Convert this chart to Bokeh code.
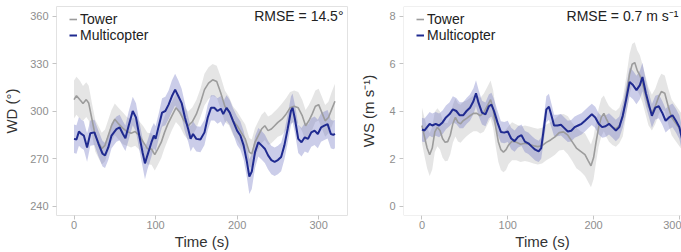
import numpy as np
from bokeh.plotting import figure
from bokeh.layouts import row
from bokeh.models import Label, Legend, LegendItem, Span, Range1d, FixedTicker
from bokeh.embed import file_html
from bokeh.resources import INLINE

# ---------------- wind direction (deg) ----------------
wd_tower_t = [0, 3, 7, 11, 15, 18, 22, 26, 30, 34, 38, 42, 46, 50, 55, 60, 65, 70, 75, 80,
              85, 90, 95, 99, 103, 107, 111, 115, 120, 125, 130, 135, 140, 145, 150, 155, 160,
              165, 170, 175, 180, 185, 190, 195, 200, 205, 210, 215, 218, 222, 226, 230, 234,
              238, 242, 246, 250, 255, 260, 265, 270, 275, 280, 284, 288, 292, 296, 300, 304,
              308, 312, 316, 320]
wd_tower = [307.2, 309.7, 307.2, 304.8, 307.2, 305.0, 294.8, 284.5, 280.3, 276.2, 278.3, 284.5,
            290.7, 294.8, 291.7, 289.0, 287.0, 286.0, 287.0, 284.5, 280.3, 276.2, 276.0, 272.5,
            276.2, 280.3, 286.5, 291.7, 296.9, 302.0, 299.0, 293.8, 290.7, 293.2, 298.0, 305.0,
            313.5, 317.6, 319.7, 318.6, 311.4, 303.0, 300.0, 293.8, 290.7, 286.5, 282.4, 274.0,
            273.0, 280.3, 284.5, 288.6, 290.7, 287.6, 288.6, 290.7, 292.8, 294.8, 298.0, 302.0,
            303.0, 302.0, 296.9, 290.7, 293.8, 298.0, 303.0, 304.0, 299.0, 293.8, 295.9, 301.0,
            306.2]
wd_tower_sd = [12, 12, 12, 11, 11, 11, 10, 10, 10, 10, 10, 10, 10, 10, 10, 10, 9, 9, 9, 9,
               10, 10, 10, 10, 10, 10, 10, 10, 9, 9, 9, 9, 9, 9, 9, 9, 10, 10, 10, 10, 10, 10,
               9, 9, 9, 9, 9, 9, 9, 9, 9, 9, 9, 9, 9, 9, 9, 10, 10, 10, 10, 10, 10, 10, 10, 10,
               10, 10, 10, 10, 10, 11, 11]

wd_copter_t = [0, 3, 6, 9, 12, 16, 20, 25, 30, 35, 38, 42, 46, 52, 56, 60, 63, 67, 72, 76, 80,
               84, 87, 90, 95, 98, 100, 104, 108, 112, 116, 120, 124, 128, 132, 136, 140, 143,
               146, 150, 155, 160, 164, 168, 172, 176, 180, 183, 187, 191, 195, 200, 204, 208,
               212, 215, 218, 222, 226, 230, 234, 238, 242, 246, 250, 254, 258, 262, 266, 268,
               271, 275, 279, 283, 287, 291, 295, 299, 303, 307, 311, 315, 318, 320]
wd_copter = [282.4, 282.0, 287.0, 285.5, 284.5, 277.0, 286.0, 286.5, 279.3, 273.0, 272.0, 277.0,
             284.5, 288.6, 289.6, 285.5, 282.8, 290.7, 300.0, 295.9, 284.5, 274.0, 266.9, 272.0,
             280.3, 284.5, 282.4, 290.7, 299.0, 300.0, 304.0, 309.3, 313.5, 309.3, 305.0, 295.9,
             288.6, 282.4, 285.5, 282.4, 282.0, 286.5, 295.9, 302.0, 302.0, 300.0, 301.4, 298.0,
             302.0, 299.0, 293.8, 287.6, 284.5, 278.3, 268.0, 258.6, 261.7, 274.0, 280.3, 278.3,
             276.2, 272.0, 269.0, 267.9, 269.0, 271.0, 278.3, 288.6, 300.0, 302.0, 294.8, 282.4,
             280.3, 283.4, 282.4, 286.5, 287.6, 285.5, 289.6, 290.7, 291.7, 285.5, 284.9, 285.5]
wd_copter_sd = [9, 9, 9, 9, 9, 9, 8, 8, 8, 8, 8, 8, 8, 8, 8, 8, 8, 9, 9, 9, 9, 9, 10, 9, 9, 8,
                8, 8, 9, 9, 9, 10, 10, 10, 9, 9, 8, 8, 8, 8, 8, 8, 8, 8, 8, 8, 8, 8, 8, 8, 8, 9,
                9, 9, 10, 11, 11, 10, 9, 9, 9, 9, 9, 9, 9, 9, 9, 9, 9, 9, 9, 9, 9, 9, 9, 9, 9,
                9, 9, 9, 9, 9, 9, 9]

# ---------------- wind speed (m/s) ----------------
ws_tower_t = [0, 3, 6, 9, 12, 15, 18, 21, 24, 27, 30, 33, 36, 39, 42, 45, 48, 52, 56, 60, 64,
              68, 72, 76, 80, 83, 86, 89, 92, 95, 98, 101, 105, 110, 115, 120, 125, 130, 135,
              140, 145, 150, 155, 160, 165, 170, 175, 180, 185, 190, 194, 197, 200, 203, 206,
              209, 212, 215, 218, 222, 226, 230, 234, 238, 242, 245, 248, 251, 254, 257, 260,
              264, 268, 272, 276, 279, 283, 287, 291, 295, 299, 303, 308, 313, 320]
ws_tower = [3.39, 2.91, 2.44, 2.16, 2.44, 3.12, 3.32, 3.18, 2.84, 2.68, 2.71, 2.98, 3.46, 3.73,
            3.52, 3.46, 3.59, 3.69, 3.80, 3.90, 3.90, 3.80, 3.93, 4.20, 4.48, 4.07, 3.32, 2.71,
            2.37, 2.27, 2.37, 2.57, 2.73, 2.68, 2.60, 2.64, 2.60, 2.54, 2.50, 2.54, 2.68, 2.78,
            2.91, 3.09, 3.12, 2.98, 2.71, 2.44, 2.30, 2.16, 1.89, 1.69, 2.03, 2.71, 3.32, 3.73,
            3.90, 3.66, 3.46, 3.32, 3.25, 3.39, 3.73, 4.61, 5.56, 5.97, 6.04, 5.70, 5.50, 5.16,
            4.75, 4.20, 3.93, 4.20, 4.61, 4.82, 4.75, 4.20, 3.73, 3.52, 3.32, 3.12, 3.00, 2.95,
            3.00]
ws_tower_sd = [0.75, 0.8, 0.85, 0.9, 0.9, 0.85, 0.8, 0.8, 0.8, 0.8, 0.8, 0.8, 0.8, 0.8, 0.8,
               0.8, 0.8, 0.75, 0.75, 0.75, 0.75, 0.75, 0.8, 0.8, 0.8, 0.8, 0.8, 0.85, 0.85,
               0.85, 0.85, 0.8, 0.8, 0.75, 0.75, 0.75, 0.75, 0.75, 0.75, 0.75, 0.75, 0.75, 0.75,
               0.75, 0.75, 0.8, 0.8, 0.85, 0.85, 0.9, 0.9, 0.9, 0.9, 0.85, 0.8, 0.8, 0.75, 0.75,
               0.75, 0.75, 0.75, 0.75, 0.8, 0.8, 0.85, 0.85, 0.85, 0.85, 0.85, 0.8, 0.8, 0.8,
               0.75, 0.75, 0.75, 0.75, 0.75, 0.75, 0.75, 0.75, 0.75, 0.75, 0.75, 0.75, 0.75]

ws_copter_t = [0, 3, 6, 9, 12, 16, 20, 24, 28, 32, 36, 40, 44, 48, 52, 56, 60, 63, 66, 70, 74,
               78, 81, 84, 88, 92, 96, 100, 104, 108, 112, 116, 120, 124, 128, 132, 136, 139,
               142, 145, 148, 151, 154, 158, 162, 166, 170, 174, 178, 182, 186, 190, 194, 198,
               202, 206, 210, 214, 218, 222, 226, 230, 234, 238, 242, 246, 250, 254, 257, 261,
               265, 268, 272, 276, 280, 284, 288, 292, 296, 300, 303, 307, 312, 316, 320]
ws_copter = [3.22, 3.18, 3.32, 3.46, 3.39, 3.46, 3.39, 3.52, 3.73, 3.86, 4.07, 4.00, 3.82, 3.82,
             4.00, 4.14, 4.41, 4.75, 4.34, 3.93, 3.86, 4.20, 4.27, 4.00, 3.52, 3.12, 3.09, 3.14,
             2.84, 2.73, 2.91, 2.98, 2.71, 2.64, 2.50, 2.37, 2.30, 2.44, 3.25, 4.07, 4.18, 3.80,
             3.39, 3.39, 3.42, 3.28, 3.14, 3.17, 3.32, 3.39, 3.46, 3.59, 3.73, 3.86, 3.73, 3.46,
             3.32, 3.36, 3.46, 3.32, 3.18, 3.32, 3.80, 4.48, 5.22, 5.09, 4.88, 5.09, 5.43, 4.75,
             4.20, 3.80, 4.14, 4.20, 3.93, 3.59, 3.73, 3.82, 3.59, 3.32, 2.84, 2.90, 3.00, 2.95,
             3.05]
ws_copter_sd = [0.5, 0.5, 0.5, 0.5, 0.5, 0.5, 0.5, 0.5, 0.5, 0.5, 0.55, 0.55, 0.55, 0.55, 0.55,
                0.55, 0.55, 0.55, 0.55, 0.5, 0.5, 0.5, 0.5, 0.5, 0.5, 0.45, 0.45, 0.45, 0.45,
                0.45, 0.45, 0.45, 0.45, 0.45, 0.45, 0.45, 0.45, 0.45, 0.5, 0.55, 0.55, 0.5, 0.45,
                0.45, 0.45, 0.45, 0.45, 0.45, 0.45, 0.45, 0.45, 0.45, 0.45, 0.45, 0.45, 0.45,
                0.45, 0.45, 0.45, 0.45, 0.45, 0.45, 0.5, 0.55, 0.6, 0.6, 0.6, 0.6, 0.6, 0.55,
                0.5, 0.5, 0.5, 0.5, 0.5, 0.5, 0.5, 0.5, 0.5, 0.5, 0.5, 0.5, 0.5, 0.5, 0.5]

series_names = ["Tower", "Multicopter"]
wd_ticks = [240, 270, 300, 330, 360]
ws_ticks = [0, 2, 4, 6, 8]
time_ticks = [0, 100, 200, 300]
time_label = "Time (s)"
rmse_wd = "RMSE = 14.5°"
rmse_ws = "RMSE = 0.7 m s⁻¹"

FONT = "Liberation Sans"
GREY_LINE = "#9c9c9c"
BLUE_LINE = "#1f2a90"
GREY_FILL = "#bdbdbd"
BLUE_FILL = "#6b70c0"
BORDER = "#e2e2e2"
TICK_COL = "#c4c4c4"
TICK_TXT = "#8e8e8e"
TITLE_TXT = "#333333"
TEXT_COL = "#222222"

T_START = -21.5


def make_panel(width, min_left, min_right, x_end, y_lo, y_hi, yticks, ylabel, ystandoff):
    p = figure(width=width, height=252, output_backend="svg", toolbar_location=None,
               x_range=Range1d(T_START, x_end), y_range=Range1d(y_lo, y_hi),
               min_border_left=min_left, min_border_right=min_right,
               min_border_top=6, min_border_bottom=10)
    p.grid.visible = False
    p.background_fill_color = "white"
    p.border_fill_color = "white"
    p.outline_line_color = BORDER
    p.outline_line_width = 1
    p.xaxis.ticker = FixedTicker(ticks=time_ticks)
    p.yaxis.ticker = FixedTicker(ticks=yticks)
    for ax in (p.xaxis[0], p.yaxis[0]):
        ax.axis_line_color = None
        ax.major_tick_line_color = TICK_COL
        ax.major_tick_out = 4
        ax.major_tick_in = 0
        ax.minor_tick_line_color = None
        ax.major_label_text_font = FONT
        ax.major_label_text_font_size = "11px"
        ax.major_label_text_color = TICK_TXT
        ax.axis_label_text_font = FONT
        ax.axis_label_text_font_size = "15px"
        ax.axis_label_text_font_style = "normal"
        ax.axis_label_text_color = TITLE_TXT
    p.xaxis.major_label_standoff = 1
    p.yaxis.major_label_standoff = 4
    p.xaxis.axis_label = time_label
    p.xaxis.axis_label_standoff = 1
    p.yaxis.axis_label = ylabel
    p.yaxis.axis_label_standoff = ystandoff
    return p


def draw_series(p, t_tower, v_tower, sd_tower, t_copter, v_copter, sd_copter):
    tt, vt, st = np.array(t_tower), np.array(v_tower), np.array(sd_tower)
    tc, vc, sc = np.array(t_copter), np.array(v_copter), np.array(sd_copter)
    p.varea(x=tt, y1=vt - st, y2=vt + st, fill_color=GREY_FILL, fill_alpha=0.4)
    p.varea(x=tc, y1=vc - sc, y2=vc + sc, fill_color=BLUE_FILL, fill_alpha=0.35)
    r_t = p.line(tt, vt, line_color=GREY_LINE, line_width=1.6)
    r_c = p.line(tc, vc, line_color=BLUE_LINE, line_width=2.0)
    # legend anchored by its bottom-left corner, in pixels from the frame's bottom-left
    legend = Legend(items=[LegendItem(label=series_names[0], renderers=[r_t]),
                           LegendItem(label=series_names[1], renderers=[r_c])],
                    location=(13, 172), margin=0, padding=0, spacing=0,
                    glyph_width=8, glyph_height=16, label_height=16, label_standoff=3,
                    label_text_font=FONT, label_text_font_size="14px",
                    label_text_color=TEXT_COL, background_fill_alpha=0,
                    border_line_color=None)
    p.add_layout(legend)


# left panel: wind direction
p1 = make_panel(355, 55, 8, 335.4, 234, 366, wd_ticks, "WD (°)", 7)
draw_series(p1, wd_tower_t, wd_tower, wd_tower_sd, wd_copter_t, wd_copter, wd_copter_sd)
p1.add_layout(Label(x=335.4, y=360, x_offset=-4, text=rmse_wd, text_align="right",
                    text_baseline="middle", text_font=FONT, text_font_size="14px",
                    text_color=TEXT_COL))

# right panel: wind speed (open on its right side)
p2 = make_panel(326, 48, 0, 302.5, -0.4, 8.4, ws_ticks, "WS (m s⁻¹)", 9)
p2.outline_line_color = None
p2.add_layout(Span(location=T_START, dimension="height", line_color=BORDER, line_width=1))
p2.add_layout(Span(location=8.4, dimension="width", line_color=BORDER, line_width=1))
p2.add_layout(Span(location=-0.4, dimension="width", line_color=BORDER, line_width=1))
draw_series(p2, ws_tower_t, ws_tower, ws_tower_sd, ws_copter_t, ws_copter, ws_copter_sd)
p2.add_layout(Label(x=302.5, y=8, x_offset=-3, text=rmse_ws, text_align="right",
                    text_baseline="middle", text_font=FONT, text_font_size="14px",
                    text_color=TEXT_COL))

layout = row(p1, p2)
open("out.html", "w").write(file_html(layout, INLINE))
